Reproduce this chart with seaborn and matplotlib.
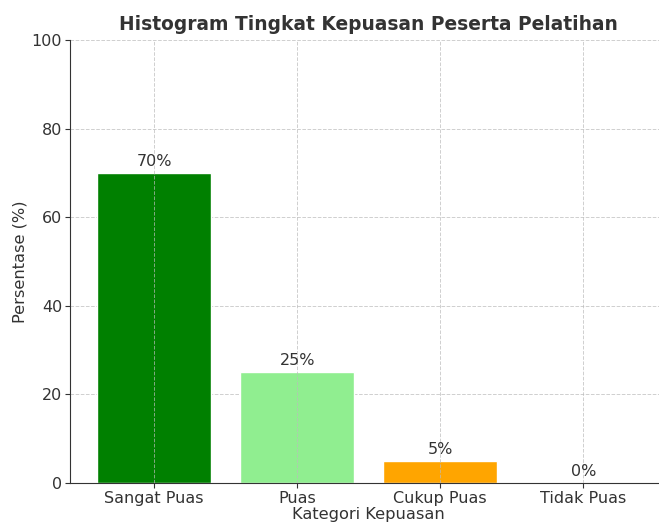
import pandas as pd
import matplotlib.pyplot as plt
import seaborn as sns

# data
kategori = ['Sangat Puas', 'Puas', 'Cukup Puas', 'Tidak Puas']
persentase = [70, 25, 5, 0]
warna = ['green', 'lightgreen', 'orange', 'red']

df = pd.DataFrame({'Kategori': kategori, 'Persentase': persentase})

sns.set_style('ticks')
plt.rcParams['font.family'] = ['DejaVu Sans']
plt.rcParams['text.color'] = '#333333'
plt.rcParams['axes.labelcolor'] = '#333333'
plt.rcParams['xtick.color'] = '#333333'
plt.rcParams['ytick.color'] = '#333333'

fig = plt.figure(figsize=(6.59, 5.23), dpi=100)
ax = fig.add_axes([0.106, 0.0765, 0.907, 0.847])

sns.barplot(data=df, x='Kategori', y='Persentase', hue='Kategori',
            palette=warna, legend=False, width=0.8, saturation=1, ax=ax)

for i, v in enumerate(persentase):
    ax.text(i, v + 0.9, f'{v}%', ha='center', va='bottom', fontsize=11.5)

ax.set_xlim(-0.59, len(kategori) - 1 + 0.59)
ax.set_ylim(0, 100)
ax.set_title('Histogram Tingkat Kepuasan Peserta Pelatihan',
             fontsize=13.4, fontweight='bold', pad=7)
ax.set_xlabel('Kategori Kepuasan', fontsize=11.7, labelpad=1)
ax.set_ylabel('Persentase (%)', fontsize=11.7, labelpad=3)
ax.tick_params(labelsize=11.5, length=3.5, pad=2)
ax.grid(True, linestyle='--', color='#bbbbbb', linewidth=0.7, alpha=0.7)
ax.set_axisbelow(True)
ax.xaxis.set_zorder(2.5)
for s in ['top', 'right']:
    ax.spines[s].set_visible(False)
for s in ['left', 'bottom']:
    ax.spines[s].set_color('#333333')

fig.savefig('out.png', dpi=100)
